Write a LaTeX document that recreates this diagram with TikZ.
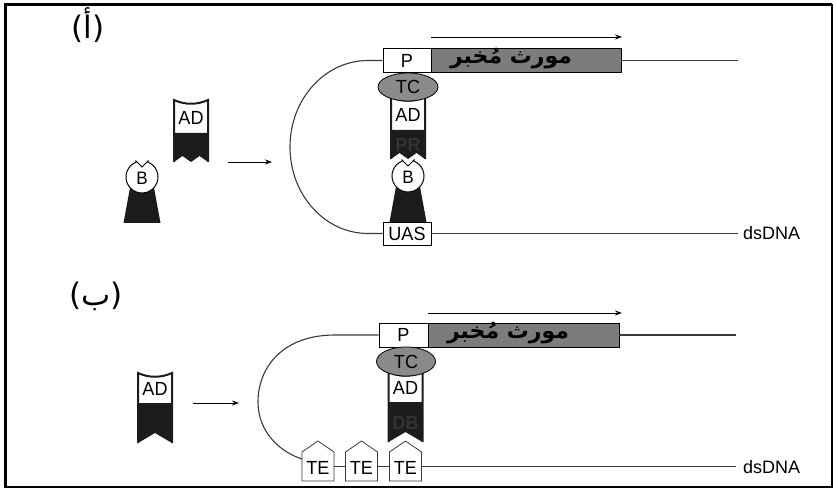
\documentclass[tikz,border=0pt]{standalone}
\usepackage{fontspec}
\setmainfont{Liberation Sans}
\newfontfamily\lab[FakeStretch=0.95]{Liberation Sans}
\newfontfamily\arabicfont[Script=Arabic]{DejaVu Sans}
\TeXXeTstate=1
\usetikzlibrary{arrows.meta,shapes.geometric,calc}
\definecolor{protblk}{HTML}{1C1C1C}
\definecolor{dnagray}{HTML}{3A3A3A}
\definecolor{genegray}{HTML}{7C7C7C}
\definecolor{tcgray}{HTML}{8A8A8A}
\definecolor{hidtxt}{HTML}{333333}
\tikzset{
  lbl/.style={font=\lab\fontsize{19}{19}\selectfont, inner sep=0pt},
  box/.style={draw=black, line width=0.8pt, fill=white, inner sep=0pt, font=\lab\fontsize{19}{19}\selectfont},
  genebox/.style={box, fill=genegray},
  arab/.style={inner sep=0pt, font=\arabicfont\bfseries\fontsize{22}{22}\selectfont},
  dna/.style={draw=dnagray, line width=1.1pt},
  arr/.style={draw=black, line width=0.9pt, -{Stealth[length=7pt,width=5pt]}},
  plabel/.style={inner sep=0pt, font=\arabicfont\fontsize{31}{31}\selectfont},
  dslbl/.style={inner sep=0pt, anchor=west, font=\fontsize{18}{18}\selectfont},
  tcell/.style={ellipse, draw=black, line width=0.8pt, fill=tcgray, inner sep=0pt, font=\lab\fontsize{19}{19}\selectfont},
  adzig/.pic={
    \path[fill=white] (-17,0) .. controls (-6,5) and (6,5) .. (17,0) -- (17,34) -- (-17,34) -- cycle;
    \fill[protblk] (-17,33) -- (17,33) -- (17,62) -- (8.5,56) -- (0,62) -- (-8.5,56) -- (-17,62) -- cycle;
    \draw[protblk, line width=2pt] (-17,62) -- (-17,0) .. controls (-6,5) and (6,5) .. (17,0) -- (17,62);
    \node[lbl] (-t) at (0,18) {AD};
  },
  adtail/.pic={
    \path[fill=white] (-17,0) .. controls (-6,5) and (6,5) .. (17,0) -- (17,31) -- (-17,31) -- cycle;
    \fill[protblk] (-17,30) -- (17,30) -- (17,70) -- (0,60) -- (-17,70) -- cycle;
    \draw[protblk, line width=2pt] (-17,70) -- (-17,0) .. controls (-6,5) and (6,5) .. (17,0) -- (17,70);
    \node[lbl] (-t) at (0,16) {AD};
  },
  bprot/.pic={
    \fill[protblk] (-11.5,8) -- (11.5,8) -- (18.5,46) -- (-18.5,46) -- cycle;
    \draw[fill=white, line width=1pt] (0,-10) -- (6,-16) -- (-68:16) arc[start angle=-68, end angle=248, radius=16] -- (-6,-16) -- cycle;
    \node[lbl, font=\lab\fontsize{18}{18}\selectfont] (-t) at (0,1) {B};
  },
}
\begin{document}
\begin{tikzpicture}[x=1pt,y=-1pt]
\useasboundingbox (0,0) rectangle (836,489);
% frame
\draw[line width=1.5pt] (5,5) -- (832,5) -- (832,487) -- (5,487) -- cycle;
\draw[line width=3pt] (5,487) -- (5,4.5) -- (832,4.5);

% ---------- panel A ----------
\node[plabel] (labA) at (88,25) {(أ)};

% free proteins
\pic (freeB) at (142,177) {bprot};
\pic (freeADA) at (191,100) {adzig};
\coordinate (arrAs) at (228,162);
\coordinate (arrAe) at (272,162);
\draw[arr] (arrAs) -- (arrAe);

% DNA
\node[box, minimum width=48pt, minimum height=24pt] (pA) at (407,60.5) {P};
\node[genebox, minimum width=190pt, minimum height=24pt] (geneA) at (526,60.5) {};
\node[arab] (txtA) at (511,58.5) {\beginR مورث مُخبر\endR};
\coordinate (loopA1) at (368,60.5);
\coordinate (loopA2) at (368,233.5);
\coordinate (endA1) at (738,60.5);
\coordinate (endA2) at (738,233.5);
\coordinate (gaS) at (431,37);
\coordinate (gaE) at (622,37);
\draw[arr] (gaS) -- (gaE);

% bound complex A
\pic (bndB) at (408,176) {bprot};
\pic (bndAD) at (408,97) {adzig};
\node[lbl, font=\lab\bfseries\fontsize{19}{19}\selectfont, text=hidtxt] (prA) at (408,145) {PR};
\node[tcell, minimum width=60pt, minimum height=28pt] (tcA) at (408,87) {TC};
\node[box, minimum width=48pt, minimum height=23pt] (uas) at (407,233.5) {UAS};
\draw[dna] (pA.west) -- (loopA1) .. controls (325,60.5) and (290,99) .. (290,147) .. controls (290,195) and (325,233.5) .. (loopA2) -- (uas.west);
\draw[dna] (geneA.east) -- (endA1);
\draw[dna] (uas.east) -- (endA2);
\node[dslbl] (dsA) at (743,233.5) {dsDNA};

% ---------- panel B ----------
\node[plabel] (labB) at (96,296) {(ب)};

\pic (freeADB) at (155,373) {adtail};
\coordinate (arrBs) at (193,403);
\coordinate (arrBe) at (239,403);
\draw[arr] (arrBs) -- (arrBe);

\node[box, minimum width=49pt, minimum height=24pt] (pB) at (403.5,335) {P};
\node[genebox, minimum width=191pt, minimum height=24pt] (geneB) at (523.5,335) {};
\node[arab] (txtB) at (508,333) {\beginR مورث مُخبر\endR};
\coordinate (gbS) at (428,313);
\coordinate (gbE) at (622,313);
\draw[arr] (gbS) -- (gbE);

% TE boxes
\foreach \i/\x in {1/318,2/361.5,3/405.5}{
  \coordinate (te\i) at (\x,466.5);
  \path (te\i) +(-16,-14.5) coordinate (te\i nw) +(16,-14.5) coordinate (te\i ne)
               +(-16,14.5) coordinate (te\i sw) +(16,14.5) coordinate (te\i se)
               +(0,-25.5) coordinate (te\i top) +(-16,0) coordinate (te\i w) +(16,0) coordinate (te\i e);
  \draw[draw=dnagray, fill=white, line width=0.8pt] (te\i sw) -- (te\i nw) -- (te\i top) -- (te\i ne) -- (te\i se) -- cycle;
  \node[lbl] (tet\i) at (\x,468) {TE};
}
\coordinate (loopB1) at (335,335);
\coordinate (loopB2) at (302,459);
\coordinate (endB1) at (736,335);
\coordinate (endB2) at (736,466.5);
\draw[dna] (pB.west) -- (loopB1) .. controls (282,335) and (258,368) .. (258,402) .. controls (258,432) and (280,452) .. (loopB2);
\draw[dna] (geneB.east) -- (endB1);
\draw[dna] (te1e) -- (te2w);
\draw[dna] (te2e) -- (te3w);
\draw[dna] (te3e) -- (endB2);
\node[dslbl] (dsB) at (743,467) {dsDNA};

% bound complex B
\pic (bndADB) at (405.5,372) {adtail};
\node[lbl, font=\lab\bfseries\fontsize{19}{19}\selectfont, text=hidtxt] (dbB) at (405.5,423) {DB};
\node[tcell, minimum width=59pt, minimum height=29pt] (tcB) at (406,361.5) {TC};
\end{tikzpicture}
\end{document}
